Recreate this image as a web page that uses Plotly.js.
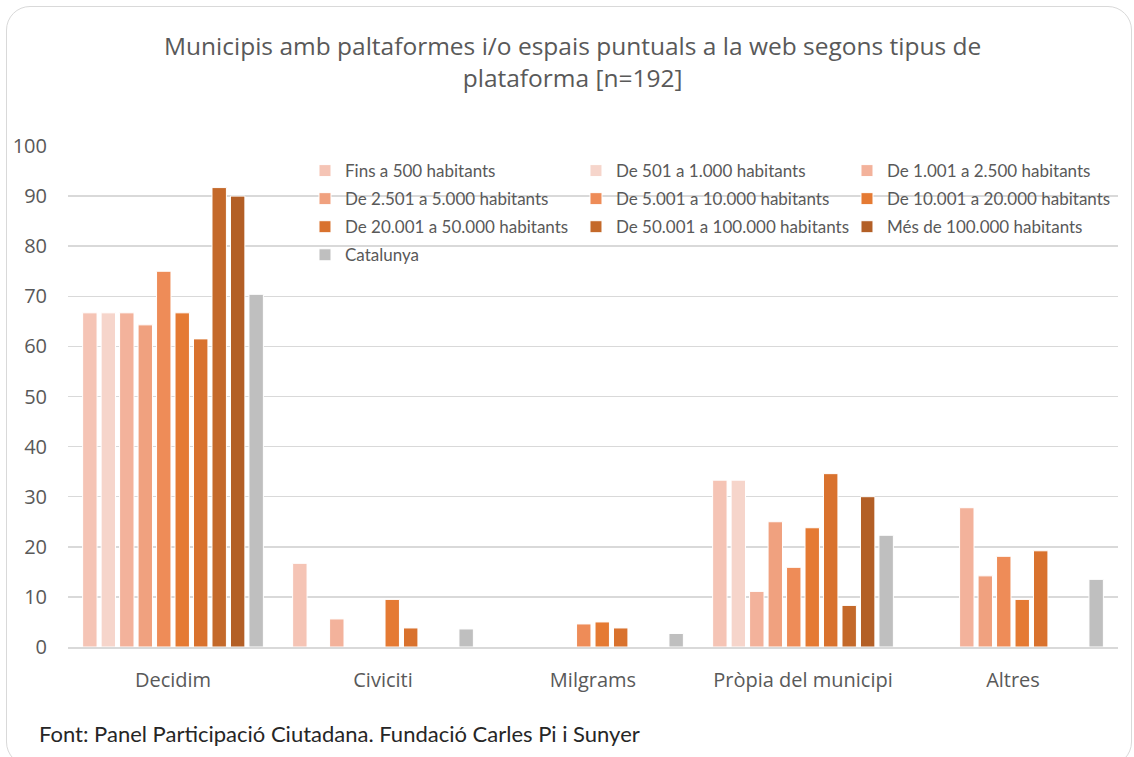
<!DOCTYPE html>
<html>
<head>
<meta charset="utf-8">
<script src="https://cdn.plot.ly/plotly-3.0.1.min.js"></script>
<style>
  html, body { margin: 0; padding: 0; background: #fff; }
  #wrap { position: relative; width: 1134px; height: 757px; }
  #chart { position: absolute; left: 0; top: 0; width: 1134px; height: 757px; }
  #frame { position: absolute; left: 6px; top: 6px; width: 1126px; height: 760px;
           border: 1.5px solid #d9d9d9; border-radius: 24px; pointer-events: none; box-sizing: border-box; }
</style>
</head>
<body>
<div id="wrap">
  <div id="chart"></div>
  <div id="frame"></div>
</div>
<script>
const categories = ["Decidim", "Civiciti", "Milgrams", "Pròpia del municipi", "Altres"];

const seriesNames = [
  "Fins a 500 habitants",
  "De 501 a 1.000 habitants",
  "De 1.001 a 2.500 habitants",
  "De 2.501 a 5.000 habitants",
  "De 5.001 a 10.000 habitants",
  "De 10.001 a 20.000 habitants",
  "De 20.001 a 50.000 habitants",
  "De 50.001 a 100.000 habitants",
  "Més de 100.000 habitants",
  "Catalunya"
];

const fins500      = [66.7, 16.7, 0,   33.3, 0];
const de501        = [66.7, 0,    0,   33.3, 0];
const de1001       = [66.7, 5.6,  0,   11.1, 27.8];
const de2501       = [64.3, 0,    0,   25.0, 14.2];
const de5001       = [75.0, 0,    4.6, 15.9, 18.1];
const de10001      = [66.7, 9.5,  5.0, 23.8, 9.5];
const de20001      = [61.5, 3.8,  3.8, 34.6, 19.2];
const de50001      = [91.7, 0,    0,   8.3,  0];
const mes100000    = [90.0, 0,    0,   30.0, 0];
const catalunya    = [70.4, 3.6,  2.7, 22.3, 13.5];

const seriesValues = [fins500, de501, de1001, de2501, de5001, de10001, de20001, de50001, mes100000, catalunya];

const colors = ["#F5C4B5", "#F6D5CB", "#F3B29B", "#F0A17F", "#EE8C58", "#E57A33", "#D9722E", "#C4692A", "#B35F26", "#BFBFBF"];

// legend rows: 3 entries per row
const legendIds = ["legend", "legend2", "legend3", "legend4"];

const traces = seriesNames.map((name, i) => ({
  type: "bar",
  name: name,
  x: categories,
  y: seriesValues[i],
  legend: legendIds[Math.floor(i / 3)],
  marker: { color: colors[i], line: { color: "#ffffff", width: 1 } },
  hoverinfo: "x+y+name"
}));

const rowY = [0.950, 0.894, 0.838, 0.782];
function legendRow(y) {
  return {
    orientation: "h",
    x: 0.2257, xanchor: "left",
    y: y, yanchor: "middle",
    bgcolor: "rgba(0,0,0,0)",
    entrywidth: 226,
    entrywidthmode: "pixels",
    itemwidth: 30,
    font: { family: "Lato, sans-serif", size: 17, color: "#595959" },
    traceorder: "normal"
  };
}

const layout = {
  width: 1134,
  height: 757,
  paper_bgcolor: "#ffffff",
  plot_bgcolor: "#ffffff",
  font: { family: "'Open Sans', sans-serif", color: "#595959" },
  margin: { l: 68, r: 16, t: 146, b: 110, autoexpand: false },
  title: {
    text: "Municipis amb paltaformes i/o espais puntuals a la web segons tipus de<br>plataforma [n=192]",
    font: { family: "'Open Sans', sans-serif", size: 24.5, color: "#595959" },
    x: 0.505, xanchor: "center",
    y: 0.927, yanchor: "top"
  },
  barmode: "group",
  bargap: 0.12,
  bargroupgap: 0.22,
  xaxis: {
    type: "category",
    showgrid: false,
    showline: true,
    linecolor: "#d9d9d9",
    linewidth: 1.5,
    ticks: "",
    tickfont: { family: "'Open Sans', sans-serif", size: 20, color: "#595959" },
    ticklabelstandoff: 14
  },
  yaxis: {
    range: [0, 100],
    dtick: 10,
    showgrid: true,
    gridcolor: "#d9d9d9",
    gridwidth: 1.5,
    zeroline: false,
    showline: false,
    ticks: "",
    tickfont: { family: "'Open Sans', sans-serif", size: 20, color: "#595959" },
    ticklabelstandoff: 20
  },
  legend: legendRow(rowY[0]),
  legend2: legendRow(rowY[1]),
  legend3: legendRow(rowY[2]),
  legend4: legendRow(rowY[3]),
  annotations: [{
    text: "Font: Panel Participació Ciutadana. Fundació Carles Pi i Sunyer",
    xref: "paper", yref: "paper",
    x: -0.030, xanchor: "left",
    y: -0.172, yanchor: "middle",
    showarrow: false,
    font: { family: "Lato, sans-serif", size: 22, color: "#262626" }
  }],
  showlegend: true
};

Plotly.newPlot("chart", traces, layout, { displayModeBar: false, staticPlot: true });
</script>
</body>
</html>
